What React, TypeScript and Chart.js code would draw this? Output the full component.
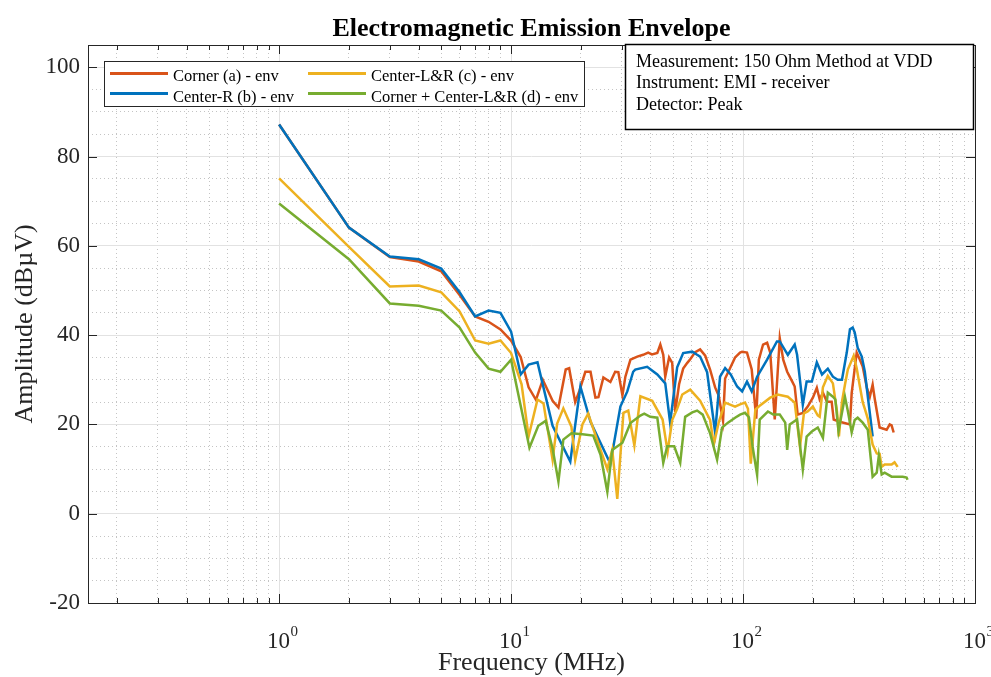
import React, { useEffect, useRef } from 'react';
import { Chart, registerables } from 'chart.js';

Chart.register(...registerables);

const TITLE = 'Electromagnetic Emission Envelope';
const X_TITLE = 'Frequency (MHz)';
const Y_TITLE = 'Amplitude (dBµV)';
const SERIES_NAMES = ['Corner (a) - env', 'Center-R (b) - env', 'Center-L&R (c) - env', 'Corner + Center-L&R (d) - env'];
const SERIES_COLORS = ['#D95319', '#0072BD', '#EDB120', '#77AC30'];
const INFO_LINES = ['Measurement: 150 Ohm Method at VDD', 'Instrument: EMI - receiver', 'Detector: Peak'];
const X_MIN = 0.15;
const X_MAX = 1000;
const Y_MIN = -20;
const Y_MAX = 105;
const X_LABEL_EXPONENTS = [0, 1, 2, 3];
const Y_STEP = 5;
const Y_LABEL_STEP = 20;

// Corner (a)
const freqA = [1, 2, 3, 4, 5, 6, 7, 8, 9, 10, 11, 11.9, 12.8, 13.7, 15.1, 16.0, 17.2, 17.8, 18.9, 19.7, 20.9, 22.0, 23.1, 23.8, 25.0, 26.8, 28.1, 29.0, 30.2, 31.1, 32.7, 35.0, 37.1, 39.0, 40.5, 42.7, 44.0, 45.3, 46.2, 48.0, 49.5, 51.0, 53.0, 55.2, 57.5, 59.2, 62.2, 65.3, 68.7, 72.1, 75.8, 78.5, 82.0, 83.7, 87.9, 92.4, 97.1, 99.1, 104, 109, 114, 117, 122, 127, 131, 137, 144, 149, 155, 163, 167, 172, 181, 190, 200, 208, 214, 221, 230, 241, 246, 261, 289, 294, 309, 319, 328, 342, 352, 362, 370, 388, 416, 429, 437, 446];
const ampA = [87.2, 64.1, 57.5, 56.5, 54.3, 49.0, 44.2, 43.0, 41.3, 38.8, 35.1, 28.3, 25.5, 30.0, 25.3, 23.8, 32.3, 32.6, 25.0, 27.5, 31.8, 31.8, 26.0, 26.1, 30.5, 29.5, 31.8, 31.7, 26.5, 30.7, 34.5, 35.2, 35.6, 36.1, 35.7, 36.0, 37.9, 35.6, 30.7, 35.0, 33.8, 22.8, 29.0, 32.5, 33.8, 34.6, 36.2, 36.8, 35.4, 32.3, 28.3, 26.5, 20.8, 30.3, 32.6, 35.0, 36.1, 36.3, 36.1, 32.3, 21.3, 34.5, 37.9, 38.3, 36.1, 21.1, 39.3, 34.5, 31.8, 29.6, 28.5, 22.2, 22.6, 24.0, 26.0, 28.2, 25.6, 27.1, 25.1, 25.1, 21.1, 20.6, 20.0, 27.0, 36.1, 34.5, 33.0, 28.2, 26.2, 28.9, 25.6, 19.3, 18.8, 20.0, 19.8, 18.2];

// Center-R (b)
const freqB = [1, 2, 3, 4, 5, 6, 7, 8, 9, 10, 11, 11.9, 13.0, 15.1, 18.0, 19.9, 22.0, 26.8, 29.6, 31.7, 33.6, 34.3, 38.6, 42.7, 46.2, 48.5, 52.0, 55.2, 60.4, 63.4, 65.3, 70.0, 75.8, 79.6, 83.7, 88.5, 94.3, 99.1, 104, 109, 115, 127, 140, 144, 156, 167, 171, 181, 188, 198, 208, 219, 232, 244, 256, 267, 280, 289, 297, 303, 312, 325, 335, 362];
const ampB = [87.2, 64.1, 57.6, 57.0, 54.9, 49.6, 44.2, 45.5, 45.0, 40.8, 31.2, 33.4, 33.9, 19.7, 11.7, 28.5, 20.6, 11.2, 24.0, 27.4, 31.8, 32.3, 32.9, 31.2, 29.2, 20.4, 32.8, 36.0, 36.3, 35.6, 35.2, 31.7, 18.2, 30.7, 32.6, 31.2, 28.5, 27.4, 29.6, 27.4, 30.7, 34.5, 38.6, 38.6, 35.6, 37.9, 35.6, 24.4, 29.6, 29.6, 33.9, 31.2, 32.5, 30.7, 30.0, 30.0, 36.1, 41.3, 41.7, 40.6, 37.2, 35.2, 31.8, 17.3];

// Center-L&R (c)
const freqC = [1, 2, 3, 4, 5, 6, 7, 8, 9, 10, 11.1, 11.9, 13.0, 13.8, 15.1, 15.8, 16.8, 18.2, 18.9, 20.3, 21.5, 23.6, 26.0, 27.3, 28.7, 30.5, 32.0, 34.0, 36.1, 40.6, 45.0, 47.3, 49.5, 52.0, 54.7, 59.2, 65.3, 72.1, 74.8, 78.5, 83.7, 92.4, 97.1, 102, 105, 108, 113, 118, 131, 141, 156, 167, 176, 183, 190, 200, 210, 214, 221, 232, 244, 254, 259, 267, 275, 283, 300, 309, 319, 328, 335, 345, 362, 377, 388, 396, 408, 437, 450, 464];
const ampC = [75.1, 59.8, 50.9, 51.1, 49.6, 45.3, 38.8, 38.1, 38.8, 36.0, 29.0, 17.3, 25.6, 24.7, 12.1, 20.2, 23.6, 19.5, 12.1, 20.0, 22.4, 16.2, 10.0, 14.3, 3.3, 22.6, 23.1, 15.3, 26.3, 25.3, 21.1, 13.9, 21.0, 23.5, 26.7, 27.8, 25.3, 21.0, 15.5, 20.4, 24.9, 24.0, 24.5, 24.9, 23.5, 11.2, 23.3, 24.2, 26.0, 26.7, 26.2, 24.9, 15.0, 22.5, 22.9, 24.0, 22.0, 21.7, 28.3, 30.9, 29.2, 23.0, 17.3, 25.1, 28.9, 32.3, 35.4, 32.6, 28.5, 25.0, 23.5, 21.3, 15.5, 13.5, 13.4, 10.5, 11.0, 11.0, 11.5, 10.5];

// Corner + Center-L&R (d)
const freqD = [1, 2, 3, 4, 5, 6, 7, 8, 9, 10, 12, 13.1, 14.1, 15.1, 16.0, 16.8, 18.2, 20.3, 22.6, 24.3, 26.0, 27.3, 30.2, 32.7, 36.1, 37.5, 39.8, 42.7, 45.3, 47.1, 50.5, 53.6, 56.3, 60.4, 63.4, 67, 72.1, 77.3, 81.2, 86.1, 92.4, 97.1, 102, 106, 110, 115, 118, 128, 135, 144, 152, 155, 159, 171, 181, 188, 198, 210, 221, 232, 244, 250, 258, 275, 283, 294, 303, 312, 328, 345, 362, 377, 385, 396, 408, 437, 473, 488, 507, 512];
const ampD = [69.5, 57.0, 47.1, 46.6, 45.5, 41.7, 36.1, 32.5, 31.8, 34.5, 14.8, 19.7, 20.8, 14.6, 7.2, 16.6, 18.0, 17.8, 17.5, 13.2, 4.9, 14.3, 15.9, 20.3, 22.0, 22.4, 21.7, 21.5, 11.4, 15.1, 15.1, 11.4, 21.7, 22.7, 23.1, 22.2, 18.0, 12.1, 19.3, 20.4, 21.5, 22.2, 22.6, 21.6, 15.0, 8.7, 21.1, 22.9, 22.2, 22.2, 20.4, 14.3, 20.0, 21.1, 9.9, 17.3, 18.4, 19.3, 17.0, 27.1, 26.2, 25.6, 18.5, 26.2, 23.0, 18.2, 21.0, 21.5, 20.4, 18.8, 8.3, 9.2, 13.0, 8.8, 9.2, 8.3, 8.3, 8.3, 8.1, 7.6];

const SERIES_FREQS = [freqA, freqB, freqC, freqD];
const SERIES_AMPS = [ampA, ampB, ampC, ampD];

const FONT = "'Liberation Serif', 'Times New Roman', serif";
const AXIS_COLOR = '#262626';
const MAJOR_GRID = '#e2e2e2';
const MINOR_GRID = '#c4c4c4';

const isDecade = (v: number) => Math.abs(Math.log10(v) - Math.round(Math.log10(v))) < 1e-9;

function logTickValues(): number[] {
  const out: number[] = [];
  for (let e = -1; e <= 3; e++) {
    for (let m = 1; m <= 9; m++) {
      const v = parseFloat((m * Math.pow(10, e)).toPrecision(6));
      if (v >= X_MIN && v <= X_MAX) out.push(v);
    }
  }
  return out;
}

const decorPlugin = {
  id: 'decor',
  afterDraw(chart: any) {
    const { ctx, chartArea } = chart;
    const { left, right, top, bottom } = chartArea;
    const xs = chart.scales.x;
    const ys = chart.scales.y;
    ctx.save();
    // title
    ctx.fillStyle = '#000000';
    ctx.font = `bold 26px ${FONT}`;
    ctx.textAlign = 'center';
    ctx.textBaseline = 'alphabetic';
    ctx.fillText(TITLE, (left + right) / 2, 36);
    // frame
    ctx.strokeStyle = AXIS_COLOR;
    ctx.lineWidth = 1;
    ctx.strokeRect(Math.round(left) + 0.5, Math.round(top) + 0.5, Math.round(right - left), Math.round(bottom - top));
    // inward ticks
    ctx.beginPath();
    for (const v of logTickValues()) {
      const px = Math.round(xs.getPixelForValue(v)) + 0.5;
      const len = isDecade(v) ? 9 : 5;
      ctx.moveTo(px, bottom);
      ctx.lineTo(px, bottom - len);
      ctx.moveTo(px, top);
      ctx.lineTo(px, top + len);
    }
    for (let v = Y_MIN; v <= Y_MAX; v += Y_LABEL_STEP) {
      const py = Math.round(ys.getPixelForValue(v)) + 0.5;
      ctx.moveTo(left, py);
      ctx.lineTo(left + 9, py);
      ctx.moveTo(right, py);
      ctx.lineTo(right - 9, py);
    }
    ctx.stroke();
    // x tick labels with superscripts
    ctx.fillStyle = '#262626';
    for (const e of X_LABEL_EXPONENTS) {
      const px = xs.getPixelForValue(Math.pow(10, e));
      ctx.font = `23px ${FONT}`;
      ctx.textAlign = 'right';
      ctx.fillText('10', px + 11, 648);
      ctx.font = `15px ${FONT}`;
      ctx.textAlign = 'left';
      ctx.fillText(String(e), px + 11.5, 636);
    }
    // legend
    const lx = 104.5, ly = 61.5, lw = 480, lh = 45;
    ctx.fillStyle = '#ffffff';
    ctx.fillRect(lx, ly, lw, lh);
    ctx.strokeStyle = AXIS_COLOR;
    ctx.lineWidth = 1;
    ctx.strokeRect(lx, ly, lw, lh);
    const colX = [110, 308];
    const lineY = [73.5, 93.5];
    const textY = [80.5, 101.5];
    ctx.font = `16.5px ${FONT}`;
    ctx.textAlign = 'left';
    ctx.textBaseline = 'alphabetic';
    SERIES_NAMES.forEach((name, i) => {
      const c = Math.floor(i / 2);
      const r = i % 2;
      const x0 = colX[c];
      ctx.strokeStyle = SERIES_COLORS[i];
      ctx.lineWidth = 3;
      ctx.beginPath();
      ctx.moveTo(x0, lineY[r]);
      ctx.lineTo(x0 + 58, lineY[r]);
      ctx.stroke();
      ctx.fillStyle = '#000000';
      ctx.fillText(name, x0 + 63, textY[r]);
    });
    // info box
    const bx = 625.5, by = 44.5, bw = 348, bh = 85;
    ctx.fillStyle = '#ffffff';
    ctx.fillRect(bx, by, bw, bh);
    ctx.strokeStyle = '#000000';
    ctx.lineWidth = 1.5;
    ctx.strokeRect(bx, by, bw, bh);
    ctx.fillStyle = '#000000';
    ctx.font = `18px ${FONT}`;
    INFO_LINES.forEach((t, i) => {
      ctx.fillText(t, 636, 66.5 + i * 21.5);
    });
    ctx.restore();
  },
};

export default function App() {
  const canvasRef = useRef<HTMLCanvasElement | null>(null);

  useEffect(() => {
    const canvas = canvasRef.current;
    if (!canvas) return;
    const datasets = SERIES_NAMES.map((name, i) => ({
      label: name,
      data: SERIES_FREQS[i].map((f, j) => ({ x: f, y: SERIES_AMPS[i][j] })),
      borderColor: SERIES_COLORS[i],
      backgroundColor: SERIES_COLORS[i],
      borderWidth: 2.5,
      pointRadius: 0,
      tension: 0,
      fill: false,
      order: SERIES_NAMES.length - i,
    }));
    const chart = new Chart(canvas, {
      type: 'line',
      data: { datasets },
      options: {
        animation: false,
        responsive: false,
        devicePixelRatio: 1,
        layout: { padding: { top: 45, right: 16, bottom: 0, left: 0 } },
        plugins: {
          legend: { display: false },
          tooltip: { enabled: false },
          title: { display: false },
        },
        scales: {
          x: {
            type: 'logarithmic',
            min: X_MIN,
            max: X_MAX,
            afterBuildTicks: (scale: any) => {
              scale.ticks = logTickValues().map((v) => ({ value: v, major: isDecade(v) }));
            },
            afterFit: (scale: any) => {
              scale.height = 74;
            },
            ticks: { display: false, autoSkip: false },
            grid: {
              drawTicks: false,
              color: (c: any) => (c.tick && isDecade(c.tick.value) ? MAJOR_GRID : MINOR_GRID),
              lineWidth: 1,
            },
            border: {
              display: false,
              dash: (c: any) => (c.tick && isDecade(c.tick.value) ? [] : [1, 3]),
            },
            title: {
              display: true,
              text: X_TITLE,
              color: '#262626',
              font: { family: FONT, size: 26 },
              padding: { top: 0, bottom: -2 },
            },
          },
          y: {
            type: 'linear',
            min: Y_MIN,
            max: Y_MAX,
            afterFit: (scale: any) => {
              scale.width = 88;
            },
            ticks: {
              stepSize: Y_STEP,
              autoSkip: false,
              padding: 8,
              color: '#262626',
              font: { family: FONT, size: 23 },
              callback: (v: any) => (Number(v) % Y_LABEL_STEP === 0 ? String(v) : ''),
            },
            grid: {
              drawTicks: false,
              color: (c: any) => (c.tick && c.tick.value % Y_LABEL_STEP === 0 ? MAJOR_GRID : MINOR_GRID),
              lineWidth: 1,
            },
            border: {
              display: false,
              dash: (c: any) => (c.tick && c.tick.value % Y_LABEL_STEP === 0 ? [] : [1, 3]),
            },
            title: {
              display: true,
              text: Y_TITLE,
              color: '#262626',
              font: { family: FONT, size: 26 },
              padding: { top: 10, bottom: 0 },
            },
          },
        },
      },
      plugins: [decorPlugin],
    });
    return () => chart.destroy();
  }, []);

  return (
    <div style={{ position: 'absolute', left: 0, top: 0, width: 991, height: 677, background: '#ffffff' }}>
      <canvas ref={canvasRef} width={991} height={677} style={{ display: 'block', width: 991, height: 677 }} />
    </div>
  );
}
